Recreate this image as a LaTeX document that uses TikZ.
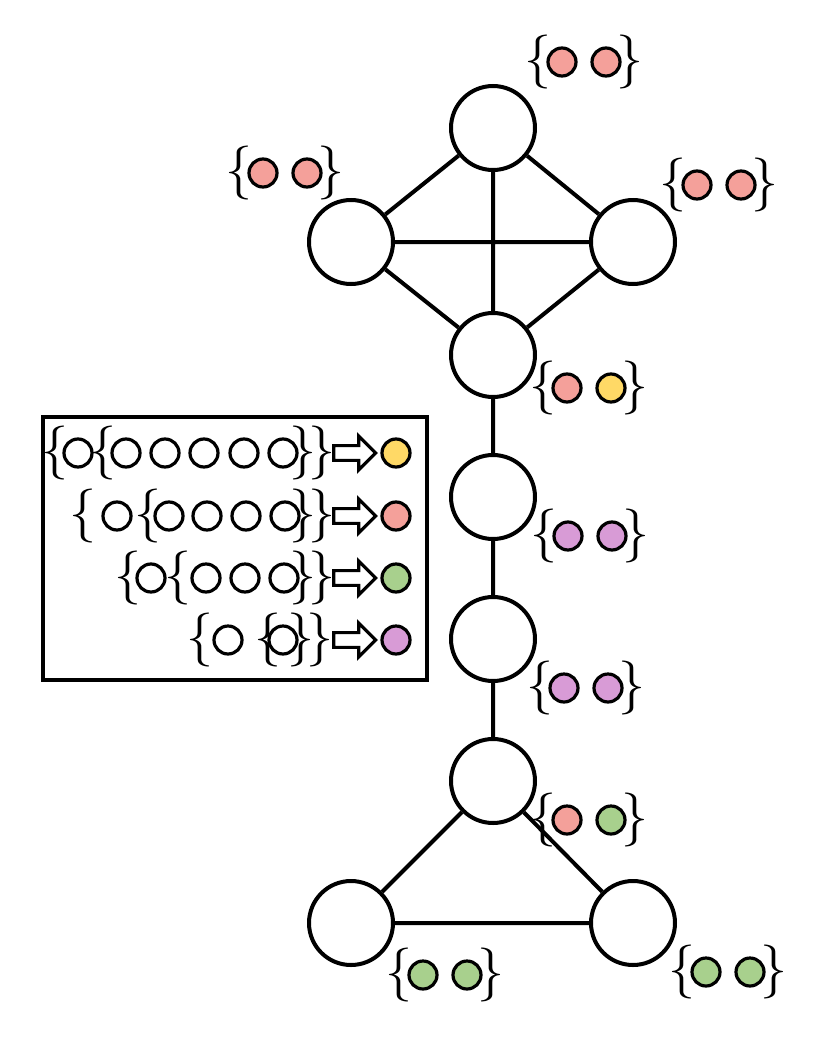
\documentclass[tikz,border=0pt]{standalone}
\usetikzlibrary{shapes.arrows}
\definecolor{pinkc}{HTML}{F4A09A}
\definecolor{yellowc}{HTML}{FFD966}
\definecolor{greenc}{HTML}{A8D08D}
\definecolor{purplec}{HTML}{D89BD6}
\tikzset{
  vtx/.style={circle, draw, line width=2pt, minimum size=42pt, inner sep=0pt, fill=white},
  tok/.style={circle, draw, line width=1.6pt, minimum size=14pt, inner sep=0pt},
  brc/.style={inner sep=0pt, font=\fontsize{27}{27}\selectfont},
  edge/.style={line width=2pt},
  imp/.style={single arrow, draw, line width=1.6pt, minimum height=21pt, minimum width=17pt, single arrow head extend=3pt, inner sep=1.5pt}
}
% pair of coloured tokens in braces: x of first token, y, colours
\newcommand{\pal}[4]{%
  \node[brc] at (#1-24,#2) {\{};
  \node[tok, fill=#3] at (#1,#2) {};
  \node[tok, fill=#4] at (#1+44,#2) {};
  \node[brc] at (#1+68,#2) {\}};
}
\begin{document}
\begin{tikzpicture}[x=0.5pt, y=-0.5pt]
  \useasboundingbox (0,0) rectangle (830,1044);
  %graph nodes
  \node[vtx] (t) at (493,128) {};
  \node[vtx] (l) at (351,242) {};
  \node[vtx] (r) at (633,242) {};
  \node[vtx] (c) at (493,355) {};
  \node[vtx] (a) at (493,497) {};
  \node[vtx] (b) at (493,639) {};
  \node[vtx] (d) at (493,781) {};
  \node[vtx] (bl) at (351,923) {};
  \node[vtx] (br) at (633,923) {};
  %edges
  \begin{scope}[on background layer/.style={}]
  \draw[edge] (t) -- (l) (t) -- (r) (t) -- (c) (l) -- (r) (l) -- (c) (r) -- (c);
  \draw[edge] (c) -- (a) (a) -- (b) (b) -- (d) (d) -- (bl) (d) -- (br) (bl) -- (br);
  \end{scope}
  %labels
  \pal{562}{62}{pinkc}{pinkc}
  \pal{263}{173}{pinkc}{pinkc}
  \pal{697}{185}{pinkc}{pinkc}
  \pal{567}{388}{pinkc}{yellowc}
  \pal{568}{536}{purplec}{purplec}
  \pal{564}{688}{purplec}{purplec}
  \pal{567}{820}{pinkc}{greenc}
  \pal{423}{975}{greenc}{greenc}
  \pal{706}{972}{greenc}{greenc}
  %legend
  \draw[line width=2pt] (43,417) rectangle (427,680);
  \foreach \y/\col in {453/yellowc, 516/pinkc, 578/greenc, 640/purplec} {
    \node[imp] at (351,\y) {};
    \node[tok, fill=\col] at (396,\y) {};
  }
  \node[brc] at (55,453) {\{};
  \foreach \x in {78,126,165,204,244,283} \node[tok] at (\x,453) {};
  \node[brc] at (103,453) {\{};
  \node[brc] at (312,453) {\}\kern-4pt\}};
  \node[brc] at (83,516) {\{};
  \foreach \x in {117,169,207,246,285} \node[tok] at (\x,516) {};
  \node[brc] at (148,516) {\{};
  \node[brc] at (312,516) {\}\kern-4pt\}};
  \node[brc] at (128,578) {\{};
  \foreach \x in {151,206,245,284} \node[tok] at (\x,578) {};
  \node[brc] at (178,578) {\{};
  \node[brc] at (312,578) {\}\kern-4pt\}};
  \node[brc] at (200,640) {\{};
  \foreach \x in {228,283} \node[tok] at (\x,640) {};
  \node[brc] at (268,640) {\{};
  \node[brc] at (310,640) {\}\kern-4pt\}};
\end{tikzpicture}
\end{document}
